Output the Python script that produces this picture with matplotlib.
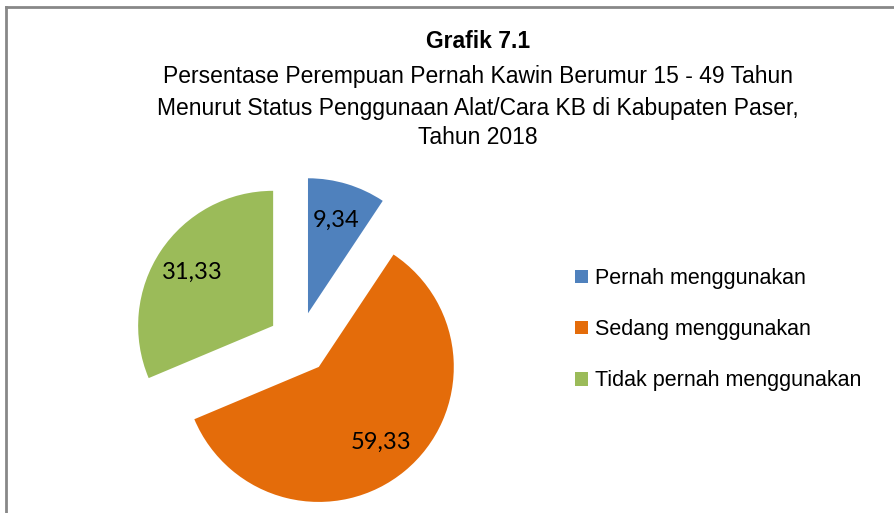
import matplotlib.pyplot as plt
from matplotlib.lines import Line2D

# data
categories = ["Pernah menggunakan", "Sedang menggunakan", "Tidak pernah menggunakan"]
values = [9.34, 59.33, 31.33]
colors = ["#4F81BD", "#E46C0A", "#9BBB59"]

W, H = 895, 513
cx, cy, r = 299, 343, 135  # pie centre / radius in pixels

title_font = ["Liberation Sans", "DejaVu Sans"]

fig = plt.figure(figsize=(W / 100, H / 100), dpi=100)
ax = fig.add_axes([0, 0, 1, 1])

wedges, texts, autotexts = ax.pie(
    values,
    colors=colors,
    startangle=90,
    counterclock=False,
    explode=[0.23, 0.23, 0.23],
    autopct=lambda p: f"{p:.2f}".replace(".", ","),
    pctdistance=0.72,
    wedgeprops=dict(linewidth=0),
    textprops=dict(fontsize=17, family=["Lato", "DejaVu Sans"], color="black"),
)
ax.set_aspect("auto")
ax.set_xlim(-cx / r, (W - cx) / r)
ax.set_ylim(-(H - cy) / r, cy / r)
ax.axis("off")

# titles
fig.text(478 / W, 1 - 42 / H, "Grafik 7.1", ha="center", va="center",
         fontsize=16.5, fontweight="bold", family=title_font)
lines = ["Persentase Perempuan Pernah Kawin Berumur 15 - 49 Tahun",
         "Menurut Status Penggunaan Alat/Cara KB di Kabupaten Paser,",
         "Tahun 2018"]
for yy, t in zip([77, 108, 138], lines):
    fig.text(478 / W, 1 - yy / H, t, ha="center", va="center",
             fontsize=16.5, family=title_font)

leg = fig.legend(wedges, categories, loc="upper left",
                 bbox_to_anchor=(575 / W, 1 - 268 / H),
                 frameon=False, borderpad=0, borderaxespad=0,
                 handlelength=0.6, handleheight=0.6, handletextpad=0.35,
                 labelspacing=1.4, prop=dict(size=15.5, family=title_font))

# chart frame (top and left edges visible)
fig.add_artist(Line2D([6.5 / W, 6.5 / W], [0, 1 - 6.5 / H], transform=fig.transFigure,
                      color="#888888", linewidth=2))
fig.add_artist(Line2D([6.5 / W, 1], [1 - 6.5 / H, 1 - 6.5 / H], transform=fig.transFigure,
                      color="#888888", linewidth=2))

fig.savefig("out.png", dpi=100)
